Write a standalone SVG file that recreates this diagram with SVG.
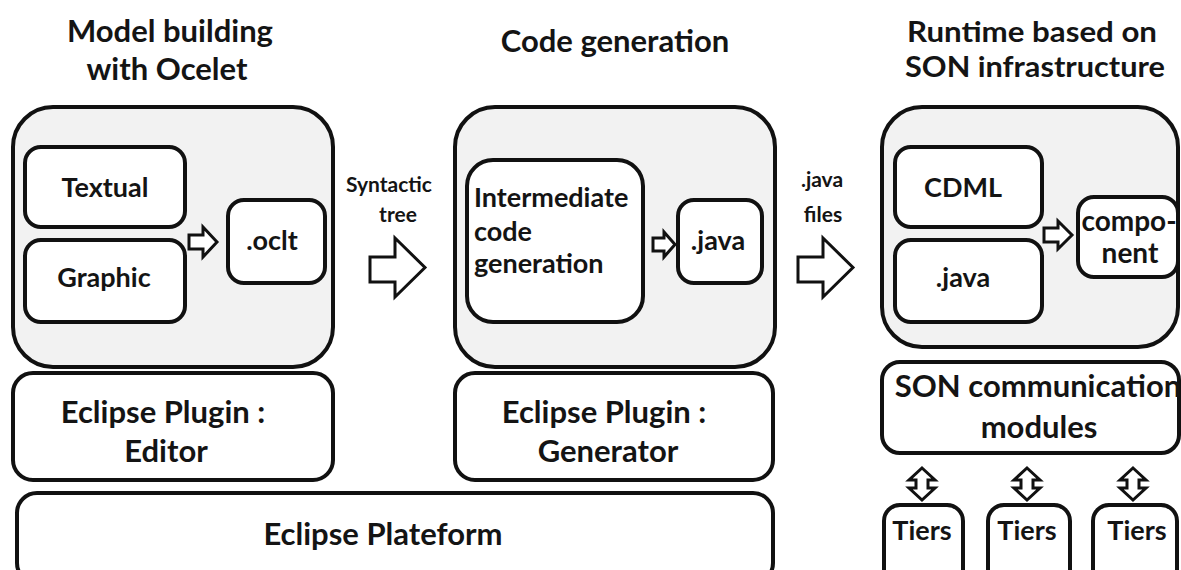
<svg xmlns="http://www.w3.org/2000/svg" width="1181" height="570" viewBox="0 0 1181 570">
<style>
.outer{fill:#f2f2f2;stroke:#111;stroke-width:4}
.box{fill:#fff;stroke:#111;stroke-width:4}
.arr{fill:#fff;stroke:#111;stroke-width:3;stroke-linejoin:miter}
text{font-family:Lato,"Open Sans","Liberation Sans",sans-serif;font-weight:bold;fill:#141414}
.t{font-size:31px;text-anchor:middle}
.tr{font-size:29px;text-anchor:middle}
.m{font-size:31px;text-anchor:middle}
.i{font-size:27px;text-anchor:middle}
.c{font-size:28px;text-anchor:middle}
.s{font-size:21px;text-anchor:middle}
.l{font-size:27px}
</style>
<rect width="1181" height="570" fill="#fff"/>

<g id="titles">
<text class="t" x="170" y="42">Model building</text>
<text class="t" x="167" y="80">with Ocelet</text>
<text class="t" x="615" y="52">Code generation</text>
<text class="tr" x="1032" y="42" textLength="250" lengthAdjust="spacingAndGlyphs">Runtime based on</text>
<text class="tr" x="1035" y="77" textLength="260" lengthAdjust="spacingAndGlyphs">SON infrastructure</text>
</g>

<g id="model-building">
<rect class="outer" x="13" y="107" width="320" height="260" rx="40"/>
</g>
<g id="textual">
<rect class="box" x="25" y="147" width="160" height="80" rx="16"/>
<text class="i" x="105" y="197">Textual</text>
</g>
<g id="graphic">
<rect class="box" x="25" y="240" width="160" height="82" rx="16"/>
<text class="i" x="104" y="287">Graphic</text>
</g>
<g id="oclt">
<rect class="box" x="228" y="200" width="97" height="83" rx="16"/>
<text class="i" x="272" y="250">.oclt</text>
</g>

<g id="code-generation">
<rect class="outer" x="455" y="107" width="320" height="260" rx="40"/>
</g>
<g id="intermediate">
<rect class="box" x="467" y="160" width="176" height="162" rx="26"/>
<text class="l" x="474" y="207">Intermediate</text>
<text class="l" x="474" y="241">code</text>
<text class="l" x="474" y="273">generation</text>
</g>
<g id="java-gen">
<rect class="box" x="678" y="200" width="84" height="83" rx="16"/>
<text class="i" x="718" y="250">.java</text>
</g>

<g id="runtime">
<rect class="outer" x="882" y="107" width="296" height="240" rx="40"/>
</g>
<g id="cdml">
<rect class="box" x="895" y="147" width="147" height="80" rx="16"/>
<text class="i" x="963" y="197">CDML</text>
</g>
<g id="java-rt">
<rect class="box" x="895" y="240" width="147" height="82" rx="16"/>
<text class="i" x="963" y="287">.java</text>
</g>
<g id="component">
<rect class="box" x="1078" y="197" width="100" height="80" rx="16"/>
<text class="c" x="1129" y="231">compo-</text>
<text class="c" x="1130" y="263">nent</text>
</g>

<g id="editor">
<rect class="box" x="13" y="373" width="320" height="107" rx="20"/>
<text class="m" x="163" y="423">Eclipse Plugin :</text>
<text class="m" x="166" y="462">Editor</text>
</g>
<g id="generator">
<rect class="box" x="455" y="373" width="318" height="107" rx="20"/>
<text class="m" x="604" y="423">Eclipse Plugin :</text>
<text class="m" x="608" y="462">Generator</text>
</g>
<g id="platform">
<rect class="box" x="17" y="493" width="756" height="90" rx="20"/>
<text class="m" x="383" y="545">Eclipse Plateform</text>
</g>
<g id="son">
<rect class="box" x="882" y="362" width="297" height="91" rx="18"/>
<text class="m" x="1038" y="397">SON communication</text>
<text class="m" x="1039" y="438">modules</text>
</g>
<g id="tiers1">
<rect class="box" x="884" y="505" width="79" height="80" rx="16"/>
<text class="i" x="922" y="540">Tiers</text>
</g>
<g id="tiers2">
<rect class="box" x="988" y="505" width="82" height="80" rx="16"/>
<text class="i" x="1027" y="540">Tiers</text>
</g>
<g id="tiers3">
<rect class="box" x="1093" y="505" width="84" height="80" rx="16"/>
<text class="i" x="1137" y="540">Tiers</text>
</g>

<g id="labels">
<text class="s" x="389" y="192">Syntactic</text>
<text class="s" x="398" y="222">tree</text>
<text class="s" x="822" y="187">.java</text>
<text class="s" x="823" y="222">files</text>
</g>

<g id="connectors">
<polygon class="arr" points="370,257 395,257 395,238 425,267.5 395,297 395,282 370,282"/>
<polygon class="arr" points="798,257 823,257 823,238 853,267.5 823,297 823,282 798,282"/>
<polygon class="arr" points="189,235 203,235 203,227 217,242 203,257 203,249 189,249"/>
<polygon class="arr" points="653,238 664,238 664,232 675,244.5 664,257 664,251 653,251"/>
<polygon class="arr" points="1044,228 1058,228 1058,221 1072,235 1058,249 1058,242 1044,242"/>
<polygon class="arr" points="922,468 935,480 928,480 928,488 935,488 922,500 909,488 916,488 916,480 909,480"/>
<polygon class="arr" points="1027,468 1040,480 1033,480 1033,488 1040,488 1027,500 1014,488 1021,488 1021,480 1014,480"/>
<polygon class="arr" points="1133,468 1146,480 1139,480 1139,488 1146,488 1133,500 1120,488 1127,488 1127,480 1120,480"/>
</g>
</svg>
